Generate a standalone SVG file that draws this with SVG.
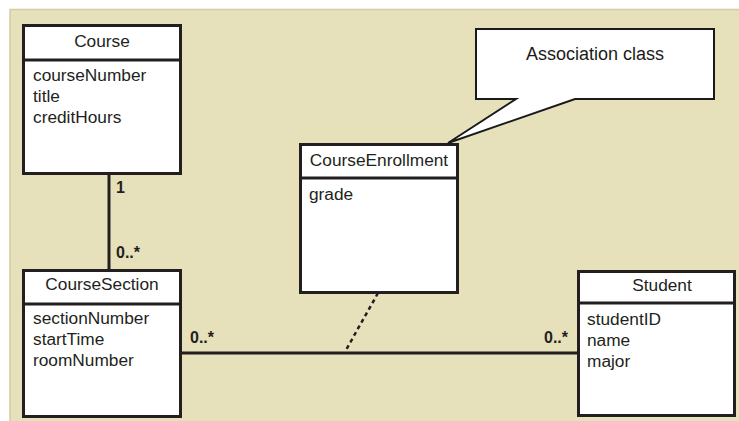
<svg xmlns="http://www.w3.org/2000/svg" width="739" height="421" viewBox="0 0 739 421">
  <style>
    .box { fill: #ffffff; stroke: #231f20; stroke-width: 3; }
    .div { stroke: #231f20; stroke-width: 3; }
    .t { font-family: "Liberation Sans", Arial, sans-serif; font-size: 17.3px; fill: #231f20; }
    .c { text-anchor: middle; }
    .m { font-family: "Liberation Sans", Arial, sans-serif; font-size: 16px; font-weight: bold; fill: #231f20; }
    .line { stroke: #231f20; stroke-width: 3; fill: none; }
  </style>

  <!-- page background -->
  <rect x="0" y="0" width="739" height="421" fill="#ffffff"/>
  <rect x="10" y="9.5" width="740" height="420" fill="#e7e1bb" stroke="#d3cca5" stroke-width="1.5"/>

  <!-- connectors -->
  <g id="connectors">
    <line class="line" x1="109" y1="174" x2="109" y2="270"/>
    <line class="line" x1="181" y1="353" x2="578" y2="353"/>
    <line x1="378" y1="293" x2="346" y2="350" stroke="#231f20" stroke-width="2.5" stroke-dasharray="4,3.5"/>
    <text class="m" x="116" y="193">1</text>
    <text class="m" x="116" y="258">0..*</text>
    <text class="m" x="190" y="343">0..*</text>
    <text class="m" x="544" y="343">0..*</text>
  </g>

  <!-- Course -->
  <g id="course">
    <rect class="box" x="23.5" y="25.5" width="157" height="148"/>
    <line class="div" x1="23.5" y1="60" x2="180.5" y2="60"/>
    <text class="t c" x="102" y="47">Course</text>
    <text class="t" x="33" y="81">courseNumber</text>
    <text class="t" x="33" y="102">title</text>
    <text class="t" x="33" y="123">creditHours</text>
  </g>

  <!-- CourseSection -->
  <g id="course-section">
    <rect class="box" x="23.5" y="270.5" width="157" height="146"/>
    <line class="div" x1="23.5" y1="304" x2="180.5" y2="304"/>
    <text class="t c" x="102" y="290">CourseSection</text>
    <text class="t" x="33" y="324">sectionNumber</text>
    <text class="t" x="33" y="345">startTime</text>
    <text class="t" x="33" y="366">roomNumber</text>
  </g>

  <!-- CourseEnrollment (association class) -->
  <g id="course-enrollment">
    <rect class="box" x="300.5" y="144.5" width="157" height="148"/>
    <line class="div" x1="300.5" y1="178" x2="457.5" y2="178"/>
    <text class="t c" x="379" y="166">CourseEnrollment</text>
    <text class="t" x="309" y="200">grade</text>
  </g>

  <!-- Student -->
  <g id="student">
    <rect class="box" x="578.5" y="271.5" width="156" height="144"/>
    <line class="div" x1="578.5" y1="303" x2="734.5" y2="303"/>
    <text class="t c" x="662" y="291">Student</text>
    <text class="t" x="587" y="325">studentID</text>
    <text class="t" x="587" y="346">name</text>
    <text class="t" x="587" y="367">major</text>
  </g>

  <!-- callout -->
  <g id="callout">
    <path d="M476,29 H714 V99 H575 L448,143 L516,99 H476 Z" fill="#ffffff" stroke="#1a1a1a" stroke-width="2" stroke-linejoin="miter"/>
    <text x="595" y="60" text-anchor="middle" font-family="'Liberation Sans', Arial, sans-serif" font-size="18" fill="#1a1a1a">Association class</text>
  </g>
</svg>
